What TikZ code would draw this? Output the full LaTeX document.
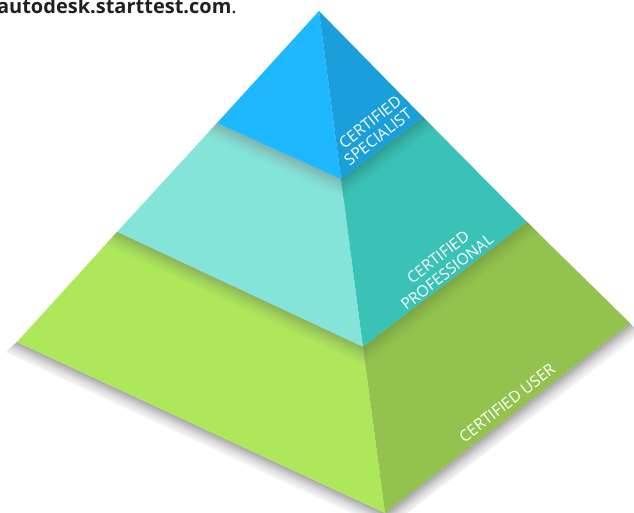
\documentclass[tikz,border=0pt]{standalone}
\usepackage{fontspec}
\setmainfont{Open Sans}
\definecolor{blueL}{HTML}{1DB8FF}
\definecolor{blueR}{HTML}{1B9FDB}
\definecolor{tealL}{HTML}{84E4DA}
\definecolor{tealR}{HTML}{3BC2B6}
\definecolor{greenL}{HTML}{ACE85A}
\definecolor{greenR}{HTML}{93C34E}
\definecolor{tealLd}{HTML}{7FB4AE}
\definecolor{tealRd}{HTML}{2F9C92}
\definecolor{greenLd}{HTML}{8DB25A}
\definecolor{greenRd}{HTML}{7CA544}
\definecolor{groundd}{HTML}{A8A8A8}
\definecolor{inktext}{HTML}{231F20}
\tikzset{
  faceshape/.style={draw=none},
  tierlabel/.style={text=white,font=\fontsize{15.7}{16}\selectfont,rotate=38,inner sep=0pt,anchor=center}
}
% from, edge angle, edge length, depth, dark colour, light colour
\newcommand{\softedge}[6]{%
  \begin{scope}[transform canvas={shift={(#1)},rotate=#2}]
  \shade[top color=#5,bottom color=#6,middle color=#6!62!#5]
    (-40,0) rectangle (#3+40,#4);
  \end{scope}}
\begin{document}
\begin{tikzpicture}[x=1pt,y=-1pt]
\useasboundingbox (0,0) rectangle (634,513);
\coordinate (apex) at (319,11);
\coordinate (t1l) at (217,123);
\coordinate (t1m) at (341,179);
\coordinate (t1r) at (423,117);
\coordinate (t2l) at (117,232);
\coordinate (t2m) at (363,347);
\coordinate (t2r) at (527,222);
\coordinate (t3l) at (17,342);
\coordinate (t3m) at (385,513);
\coordinate (t3r) at (630,323);
% ground shadow
\begin{scope}
\clip (t3l) -- (5,352) -- (385,530) -- (640,335) -- (t3r) -- (t3m) -- cycle;
\softedge{t3l}{-24.92}{405.8}{16}{groundd}{white}
\softedge{t3m}{37.8}{310}{16}{groundd}{white}
\end{scope}
% faces
\fill[greenL,faceshape] (t2l) -- (t2m) -- (t3m) -- (t3l) -- cycle;
\fill[greenR,faceshape] (t2m) -- (t2r) -- (t3r) -- (t3m) -- cycle;
\fill[tealL,faceshape] (t1l) -- (t1m) -- (t2m) -- (t2l) -- cycle;
\fill[tealR,faceshape] (t1m) -- (t1r) -- (t2r) -- (t2m) -- cycle;
% cast shadows
\begin{scope}
\clip (t2l) -- (t2m) -- (t3m) -- (t3l) -- cycle;
\softedge{t2l}{-25.06}{271.6}{17}{greenLd}{greenL}
\end{scope}
\begin{scope}
\clip (t2m) -- (t2r) -- (t3r) -- (t3m) -- cycle;
\softedge{t2m}{37.3}{206.2}{17}{greenRd}{greenR}
\end{scope}
\begin{scope}
\clip (t1l) -- (t1m) -- (t2m) -- (t2l) -- cycle;
\softedge{t1l}{-24.3}{136.1}{17}{tealLd}{tealL}
\end{scope}
\begin{scope}
\clip (t1m) -- (t1r) -- (t2r) -- (t2m) -- cycle;
\softedge{t1m}{37.1}{102.8}{17}{tealRd}{tealR}
\end{scope}
\fill[blueL,faceshape] (apex) -- (t1m) -- (t1l) -- cycle;
\fill[blueR,faceshape] (apex) -- (t1r) -- (t1m) -- cycle;
% labels
\node[tierlabel] (lblA) at (370,122) {CERTIFIED};
\node[tierlabel] (lblB) at (378,137) {SPECIALIST};
\node[tierlabel] (lblC) at (438,257) {CERTIFIED};
\node[tierlabel] (lblD) at (447,272) {PROFESSIONAL};
\node[tierlabel] (lblE) at (507,403) {CERTIFIED USER};
% cut-off caption
\node[anchor=base east,inner sep=0pt,text=inktext,font=\fontsize{20}{20}\selectfont] (cap) at (237,14) {\textbf{autodesk.starttest.com}.};
\end{tikzpicture}
\end{document}
